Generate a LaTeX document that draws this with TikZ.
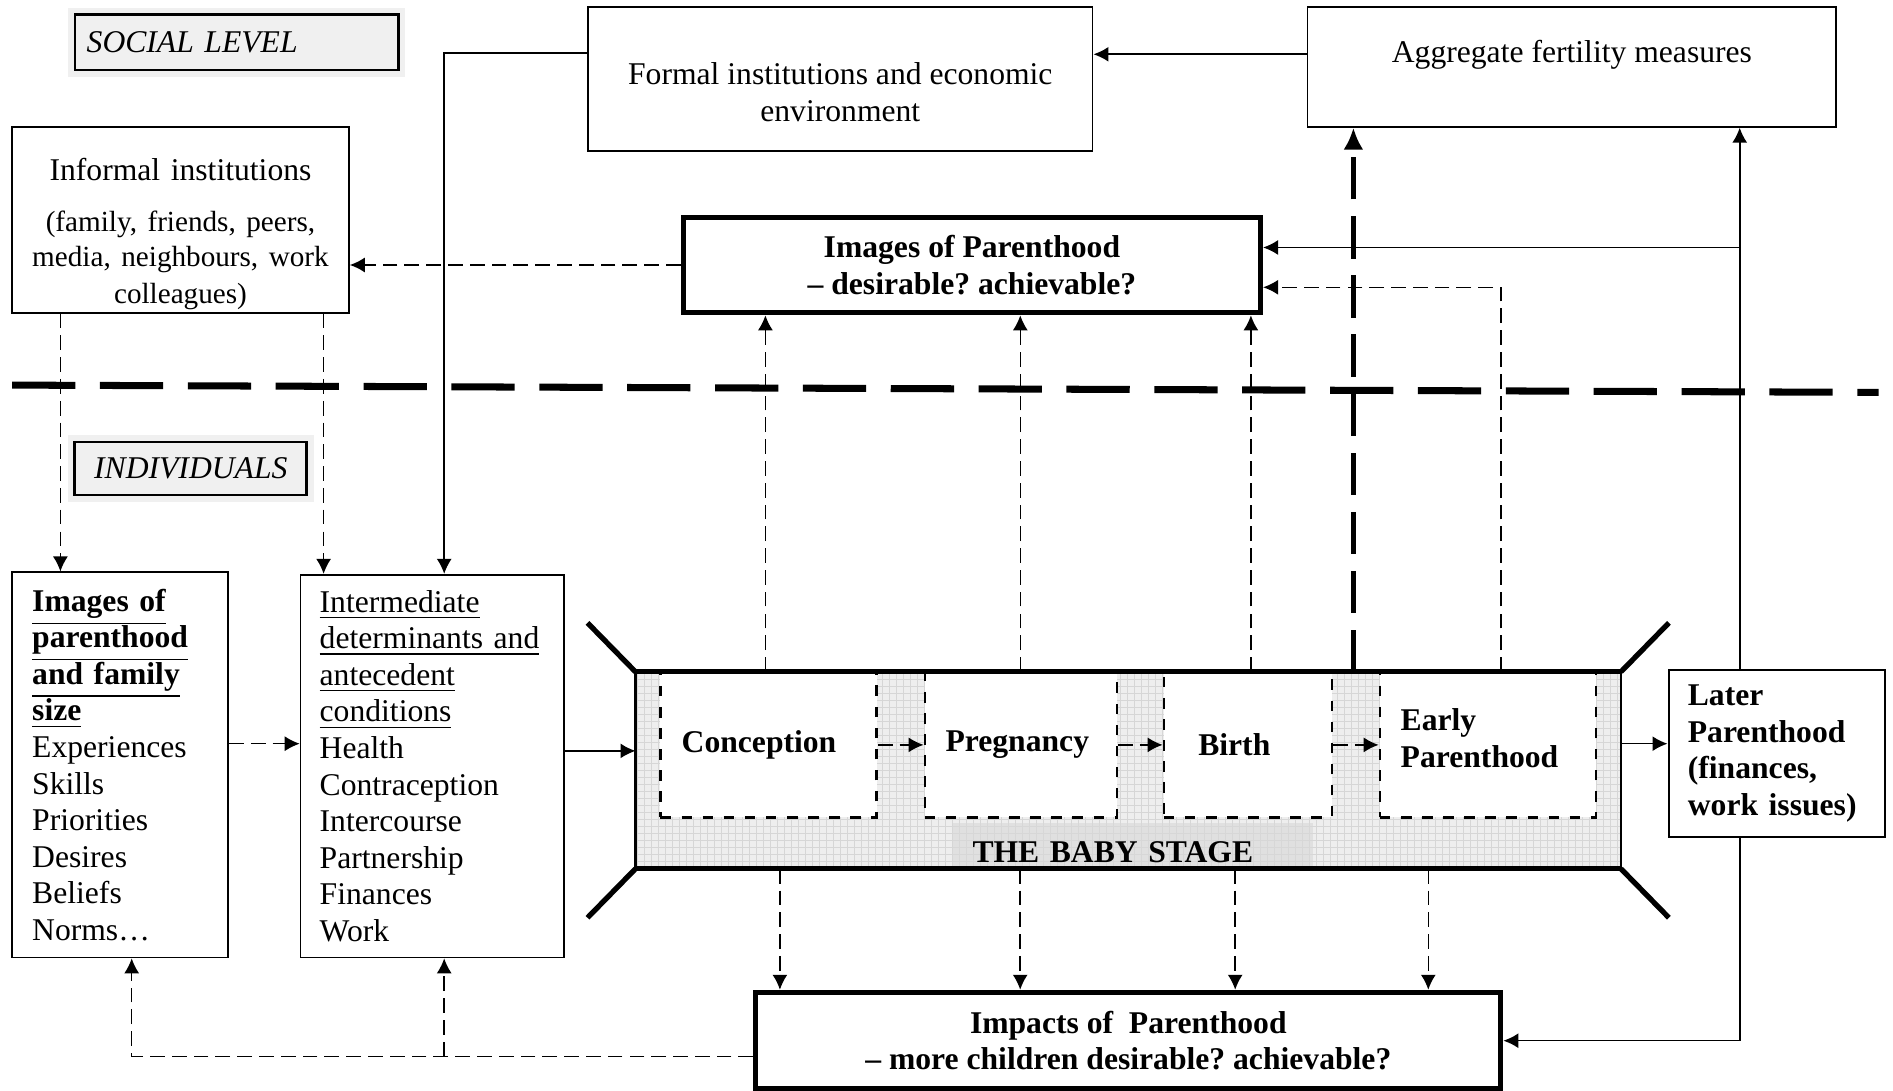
\documentclass[tikz,border=0pt]{standalone}
\usepackage{fontspec}
\setmainfont{Liberation Serif}
\usetikzlibrary{arrows.meta,positioning}
\newcommand{\figfont}{\fontsize{9}{10.4}\selectfont}

\begin{document}
\frenchspacing
\begin{tikzpicture}[>={Latex[length=1.5mm,width=1.5mm]},
  inst/.style={draw,line width=0.5pt,align=center,font=\figfont,inner sep=0.1cm},
  keybox/.style={draw,line width=1.5pt,align=center,font=\figfont\bfseries,inner sep=0.1cm},
  lvl/.style={draw,line width=0.8pt,fill=gray!12,font=\figfont\itshape,preaction={draw=gray!12,line width=4pt}},
  lst/.style={draw,line width=0.5pt,align=left,font=\figfont,inner ysep=0.1cm},
  phase/.style={draw,dashed,line width=0.7pt,fill=white,font=\figfont\bfseries,inner sep=0.1cm},
  conn/.style={->,line width=0.45pt},
  dconn/.style={->,line width=0.45pt,dash pattern=on 4.2pt off 2pt},
  bigconn/.style={-{Latex[length=2.2mm,width=2mm]},line width=1.4pt,dash pattern=on 12pt off 4.8pt}]
\useasboundingbox (0,0) rectangle (18.93,-10.902);
% social level
\node[lvl,minimum width=3.235cm,minimum height=0.555cm,text width=3.0cm,align=left] (soc) at (2.367,-0.423) {SOCIAL LEVEL};
\node[inst,minimum width=5.046cm,minimum height=1.437cm,text height=24pt] (formal) at (8.403,-0.791) {Formal institutions and economic\\environment};
\node[inst,minimum width=5.288cm,minimum height=1.196cm,text depth=9pt] (aggr) at (15.719,-0.670) {Aggregate fertility measures};
\node[inst,minimum width=3.368cm,minimum height=1.859cm,text width=3.15cm,text height=14.5pt,inner ysep=0pt] (informal) at (1.805,-2.198) {Informal institutions\\[4.6pt]\fontsize{8.3}{9.9}\selectfont(family, friends, peers,\\media, neighbours, work\\colleagues)};
\node[keybox,minimum width=5.771cm,minimum height=0.954cm] (imgpar) at (9.719,-2.650) {Images of Parenthood\\– desirable? achievable?};
\draw[line width=2pt,dash pattern=on 18pt off 7pt] (0.121,-3.851) -- (18.786,-3.924);
% individuals
\node[lvl,minimum width=2.318cm,minimum height=0.531cm] (ind) at (1.908,-4.685) {INDIVIDUALS};
\node[lst,minimum width=2.161cm,minimum height=3.851cm,text width=1.76cm,inner xsep=0.2cm] (imgfam) at (1.202,-7.649) {\underline{\textbf{Images of}}\\\underline{\textbf{parenthood}}\\\underline{\textbf{and family}}\\\underline{\textbf{size}}\\Experiences\\Skills\\Priorities\\Desires\\Beliefs\\Norms…};
\node[lst,minimum width=2.632cm,minimum height=3.827cm,text width=2.25cm,inner xsep=0.19cm] (imedi) at (4.322,-7.661) {\underline{Intermediate}\\\underline{determinants and}\\\underline{antecedent}\\\underline{conditions}\\Health\\Contraception\\Intercourse\\Partnership\\Finances\\Work};
% baby stage
\node[minimum width=9.84cm,minimum height=1.955cm,inner sep=0] (stage) at (11.282,-7.703) {};
\fill[gray!13] (stage.south west) rectangle (stage.north east);
\draw[gray!32,line width=0.2pt,step=0.07] (stage.south west) grid (stage.north east);
\node[fill=gray!30,fill opacity=0.65,text opacity=1,minimum width=3.597cm,minimum height=0.446cm,text width=3.2cm,align=left,inner xsep=0.2cm,inner ysep=0,text height=9.5pt,font=\figfont\bfseries] (babylbl) at (11.325,-8.457) {THE BABY STAGE};
\node[phase,minimum width=2.161cm,minimum height=1.448cm] (conc) at (7.685,-7.449) {Conception\kern1.9mm};
\node[phase,minimum width=1.920cm,minimum height=1.448cm] (preg) at (10.208,-7.449) {Pregnancy\kern0.7mm};
\node[phase,minimum width=1.679cm,minimum height=1.448cm] (birth) at (12.478,-7.449) {Birth\kern2.7mm};
\node[phase,minimum width=2.162cm,minimum height=1.448cm,align=left,text depth=4pt] (early) at (14.880,-7.449) {Early\\Parenthood\kern1.7mm};
\draw[dconn] (conc) -- (preg);
\draw[dconn] (preg) -- (birth);
\draw[dconn] (birth) -- (early);
\draw[line width=0.8pt] (stage.south west) rectangle (stage.north east);
\draw[line width=1.5pt] (stage.north west) -- (stage.north east);
\draw[line width=1.5pt] (stage.south west) -- (stage.south east);
\draw[line width=1.5pt] (stage.north west) -- ++(-0.48,0.49);
\draw[line width=1.5pt] (stage.south west) -- ++(-0.48,-0.49);
\draw[line width=1.5pt] (stage.north east) -- ++(0.48,0.49);
\draw[line width=1.5pt] (stage.south east) -- ++(0.48,-0.49);
\node[lst,font=\figfont\bfseries,line width=0.6pt,minimum width=2.161cm,minimum height=1.666cm,text width=1.775cm,inner xsep=0.193cm] (later) at (17.766,-7.534) {Later\\Parenthood\\(finances,\\work issues)};
\node[keybox,minimum width=7.449cm,minimum height=0.966cm] (impact) at (11.283,-10.407) {Impacts of\ \ Parenthood\\– more children desirable? achievable?};
% connectors
\coordinate (ag1) at ([yshift=1.27mm]aggr.west);
\draw[conn] (ag1) -- (formal.east |- ag1);
\coordinate (fo1) at ([yshift=2.6mm]formal.west);
\coordinate (im1) at ([xshift=1.2mm]imedi.north);
\draw[conn] (fo1) -| (im1);
\coordinate (if1) at ([xshift=-5.98mm]imgfam.north);
\draw[dconn] (informal.south -| if1) -- (if1);
\coordinate (im2) at ([xshift=-10.86mm]imedi.north);
\draw[dconn] (informal.south -| im2) -- (im2);
\draw[dconn] (imgpar.west) -- (informal.east |- imgpar.west);
\coordinate (la1) at ([xshift=-3.69mm]later.north);
\draw[conn] (la1) -- (aggr.south -| la1);
\coordinate (ip1) at ([yshift=1.75mm]imgpar.east);
\draw[conn] (la1 |- ip1) -- (ip1);
\coordinate (ip2) at ([yshift=-2.23mm]imgpar.east);
\draw[dconn] ([xshift=37.25mm]stage.north) |- (ip2);
\coordinate (ag2) at ([xshift=-21.85mm]aggr.south);
\draw[bigconn] (stage.north -| ag2) -- (ag2);
\coordinate (u1) at ([xshift=-20.65mm]imgpar.south);
\coordinate (u2) at ([xshift=4.84mm]imgpar.south);
\coordinate (u3) at ([xshift=27.9mm]imgpar.south);
\draw[dconn] (stage.north -| u1) -- (u1);
\draw[dconn] (stage.north -| u2) -- (u2);
\draw[dconn] (stage.north -| u3) -- (u3);
\coordinate (d1) at ([xshift=-34.84mm]impact.north);
\coordinate (d2) at ([xshift=-10.81mm]impact.north);
\coordinate (d3) at ([xshift=10.69mm]impact.north);
\coordinate (d4) at ([xshift=30mm]impact.north);
\draw[dconn] (stage.south -| d1) -- (d1);
\draw[dconn] (stage.south -| d2) -- (d2);
\draw[dconn] (stage.south -| d3) -- (d3);
\draw[dconn] (stage.south -| d4) -- (d4);
\draw[conn] ([xshift=-3.69mm]later.south) |- (impact.east);
\coordinate (ia1) at ([yshift=-1.57mm]impact.west);
\coordinate (if2) at ([xshift=1.15mm]imgfam.south);
\draw[dconn] (ia1) -| (if2);
\coordinate (im3) at ([xshift=1.2mm]imedi.south);
\draw[dconn] (im3 |- ia1) -- (im3);
\coordinate (if3) at ([yshift=2.12mm]imgfam.east);
\draw[dconn] (if3) -- (imedi.west |- if3);
\coordinate (st1) at ([yshift=1.94mm]stage.west);
\draw[conn] (imedi.east |- st1) -- (st1);
\coordinate (st2) at ([yshift=2.66mm]stage.east);
\draw[conn] (st2) -- (later.west |- st2);
\end{tikzpicture}
\end{document}
